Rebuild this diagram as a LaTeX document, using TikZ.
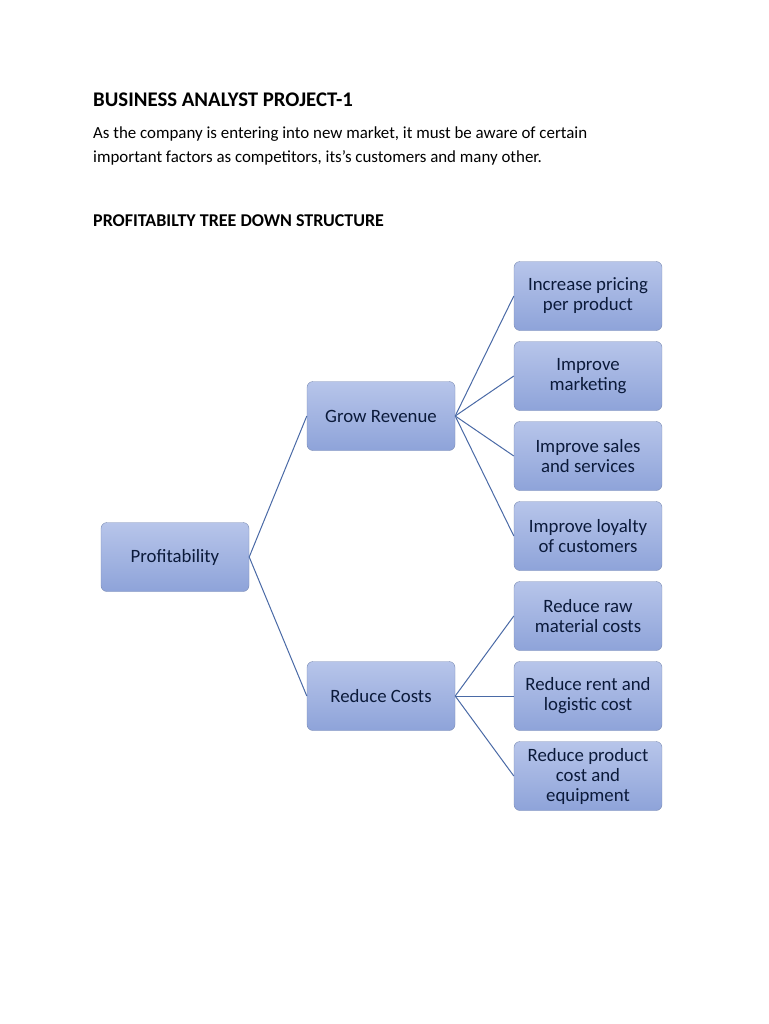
\documentclass[tikz,border=0pt]{standalone}
\usepackage{fontspec}
\setmainfont{Carlito}
\definecolor{boxtop}{HTML}{B7C5EA}
\definecolor{boxbot}{HTML}{8EA3D9}
\definecolor{boxline}{HTML}{7B8CB4}
\definecolor{linkline}{HTML}{4A6AA6}
\definecolor{boxtext}{HTML}{0B1A3A}

\begin{document}
\begin{tikzpicture}
  [x=1pt,y=-1pt,
   tree box/.style={rectangle,rounded corners=6pt,draw=boxline,top color=boxtop,bottom color=boxbot,
     minimum width=148pt,minimum height=69pt,align=center,text=boxtext,inner sep=0pt,
     font=\fontsize{18.8}{20}\selectfont},
   page text/.style={anchor=base west,inner sep=0pt,align=left},
   link/.style={draw=linkline,line width=1pt}]
  \useasboundingbox[fill=white] (0,0) rectangle (768,1024);

  \node[page text,font=\fontsize{20.8}{24}\selectfont\bfseries] (title) at (93,107) {BUSINESS ANALYST PROJECT-1};
  \node[page text,font=\fontsize{16.9}{24}\selectfont] (intro) at (93,163)
    {As the company is entering into new market, it must be aware of certain\\important factors as competitors, its’s customers and many other.};
  \node[page text,font=\fontsize{18}{20}\selectfont\bfseries] (subtitle) at (93,226) {PROFITABILTY TREE DOWN STRUCTURE};

  \node[tree box] (profit) at (175,557) {Profitability};
  \node[tree box] (grow) at (381,416) {Grow Revenue};
  \node[tree box] (reduce) at (381,696) {Reduce Costs};

  \node[tree box] (g1) at (588,296) {Increase pricing\\per product};
  \node[tree box] (g2) at (588,376) {Improve\\marketing};
  \node[tree box] (g3) at (588,456) {Improve sales\\and services};
  \node[tree box] (g4) at (588,536) {Improve loyalty\\of customers};
  \node[tree box] (r1) at (588,616) {Reduce raw\\material costs};
  \node[tree box] (r2) at (588,696) {Reduce rent and\\logistic cost};
  \node[tree box] (r3) at (588,776) {Reduce product\\cost and\\equipment};

  \path[link] (profit.east) edge (grow.west);
  \path[link] (profit.east) edge (reduce.west);
  \foreach \n in {g1,g2,g3,g4}
    \path[link] (grow.east) edge (\n.west);
  \foreach \n in {r1,r2,r3}
    \path[link] (reduce.east) edge (\n.west);
\end{tikzpicture}
\end{document}
